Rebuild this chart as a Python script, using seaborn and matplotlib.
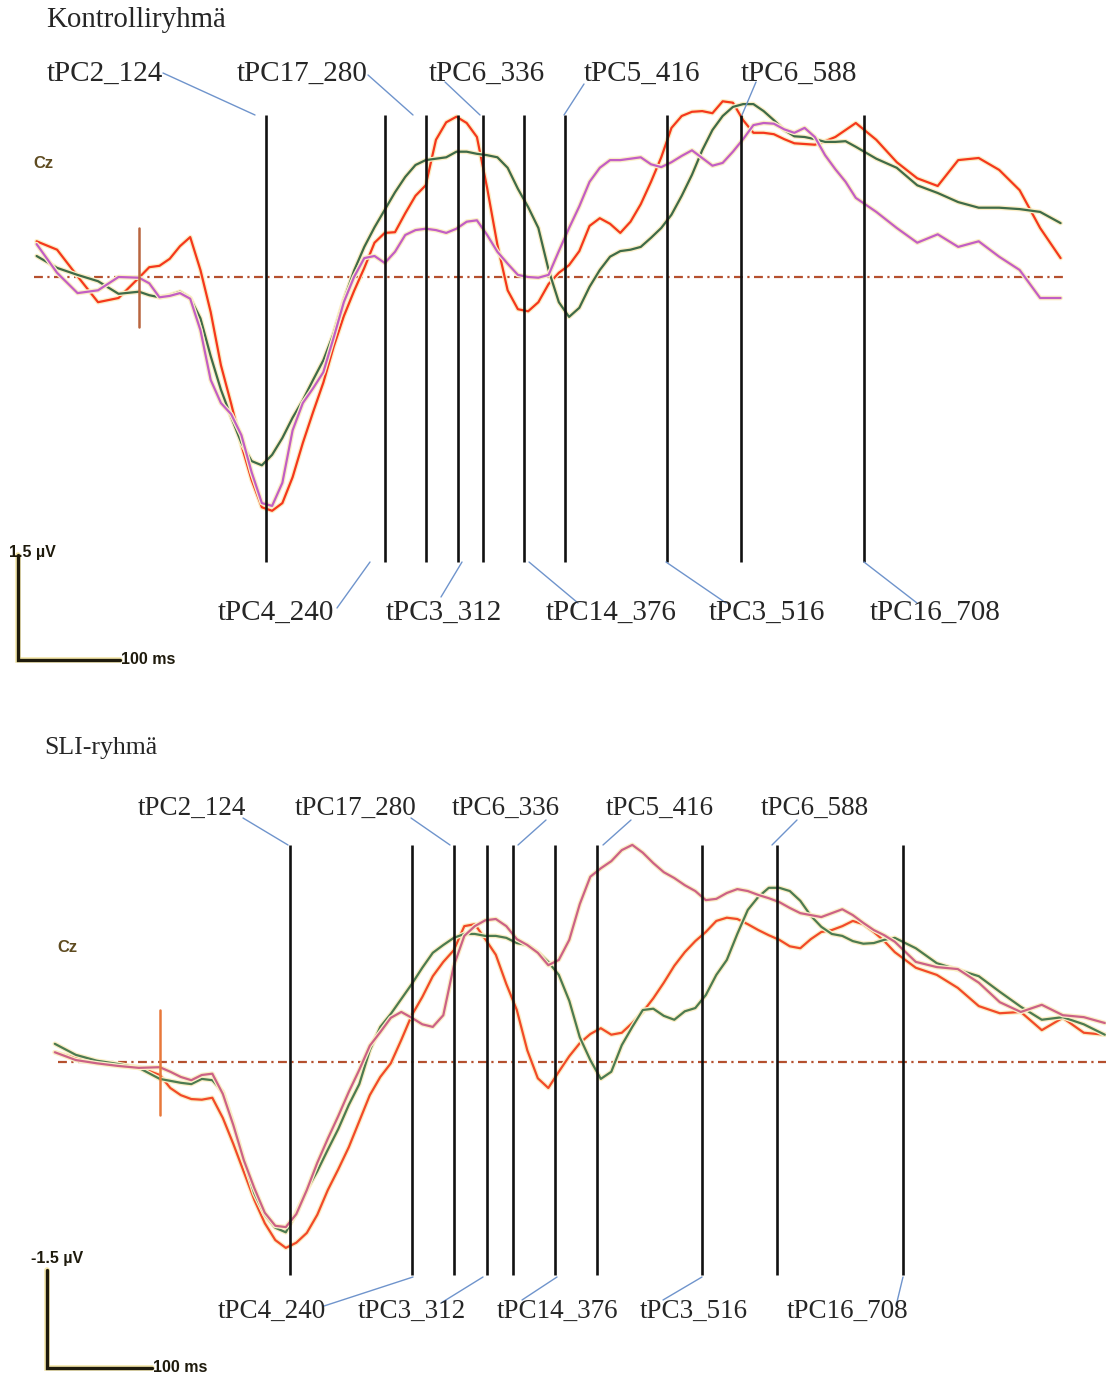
import numpy as np
import pandas as pd
import matplotlib
matplotlib.use("Agg")
import matplotlib.pyplot as plt
import matplotlib.patheffects as pe
import seaborn as sns

W, H = 1106, 1378

# time axis of the averaged ERPs (ms): 20 ms steps in the baseline and the tail,
# 10 ms steps where the waves move fast
time_ms = [-100, -80, -60, -40, -20] + list(range(0, 700, 10)) + list(range(700, 901, 20))

# Kontrolliryhma, Cz (uV)
ctrl_red = [0.51, 0.39, 0.01, -0.36, -0.30,
            -0.01, 0.14, 0.16, 0.26, 0.44, 0.57, 0.10, -0.50, -1.26, -1.81,
            -2.40, -2.90, -3.29, -3.34, -3.23, -2.86, -2.37, -1.93, -1.51, -1.00,
            -0.56, -0.20, 0.13, 0.49, 0.63, 0.64, 0.91, 1.16, 1.31, 1.96,
            2.21, 2.29, 2.20, 2.00, 1.27, 0.46, -0.19, -0.46, -0.49, -0.36,
            -0.10, 0.06, 0.17, 0.37, 0.73, 0.84, 0.76, 0.63, 0.79, 1.04,
            1.36, 1.71, 2.13, 2.30, 2.36, 2.37, 2.34, 2.51, 2.49, 2.24,
            2.06, 2.06, 2.04, 1.97, 1.91, 1.90, 1.89, 1.94, 2.00, 2.10,
            2.20, 1.96, 1.64, 1.41, 1.30, 1.67, 1.70, 1.53, 1.24, 0.70, 0.27]
ctrl_green = [0.30, 0.13, 0.03, -0.06, -0.24,
              -0.21, -0.26, -0.29, -0.26, -0.21, -0.30, -0.59, -1.13, -1.61, -2.00,
              -2.37, -2.63, -2.69, -2.54, -2.30, -2.01, -1.76, -1.47, -1.19, -0.81,
              -0.33, 0.09, 0.43, 0.71, 0.96, 1.21, 1.43, 1.60, 1.67, 1.69,
              1.71, 1.79, 1.79, 1.76, 1.74, 1.71, 1.56, 1.26, 1.00, 0.70,
              0.10, -0.36, -0.57, -0.44, -0.14, 0.10, 0.29, 0.37, 0.39, 0.43,
              0.56, 0.70, 0.89, 1.16, 1.46, 1.81, 2.10, 2.30, 2.43, 2.47,
              2.47, 2.37, 2.24, 2.10, 2.01, 2.00, 1.97, 1.93, 1.93, 1.94,
              1.86, 1.69, 1.56, 1.31, 1.20, 1.07, 0.99, 0.99, 0.97, 0.93, 0.77]
ctrl_magenta = [0.47, 0.06, -0.23, -0.19, 0.00,
                -0.01, -0.09, -0.29, -0.27, -0.23, -0.31, -0.76, -1.47, -1.80, -1.96,
                -2.26, -2.79, -3.23, -3.27, -2.94, -2.19, -1.80, -1.59, -1.36, -0.87,
                -0.36, 0.00, 0.27, 0.30, 0.20, 0.36, 0.60, 0.67, 0.69, 0.67,
                0.63, 0.69, 0.79, 0.81, 0.60, 0.36, 0.19, 0.03, 0.00, -0.01,
                0.03, 0.37, 0.70, 1.01, 1.36, 1.56, 1.67, 1.67, 1.69, 1.71,
                1.61, 1.57, 1.64, 1.73, 1.81, 1.70, 1.59, 1.63, 1.79, 1.97,
                2.17, 2.20, 2.19, 2.11, 2.06, 2.13, 2.00, 1.74, 1.54, 1.36,
                1.13, 0.93, 0.70, 0.49, 0.61, 0.43, 0.51, 0.29, 0.10, -0.30, -0.30]

# SLI-ryhma, Cz (uV)
sli_red = [0.15, 0.06, 0.00, -0.05, -0.08,
           -0.20, -0.40, -0.51, -0.57, -0.58, -0.55, -0.86, -1.26, -1.69, -2.12,
           -2.48, -2.74, -2.86, -2.78, -2.63, -2.35, -1.97, -1.65, -1.31, -0.91,
           -0.51, -0.23, -0.02, 0.34, 0.72, 1.00, 1.32, 1.54, 1.72, 2.09,
           2.12, 1.89, 1.65, 1.20, 0.80, 0.18, -0.25, -0.40, -0.15, 0.09,
           0.29, 0.43, 0.52, 0.42, 0.45, 0.60, 0.77, 0.98, 1.22, 1.48,
           1.69, 1.86, 2.00, 2.17, 2.22, 2.20, 2.12, 2.03, 1.95, 1.88,
           1.78, 1.75, 1.89, 2.00, 2.03, 2.09, 2.17, 2.12, 2.00, 1.86,
           1.69, 1.45, 1.34, 1.14, 0.86, 0.75, 0.77, 0.49, 0.68, 0.45, 0.42]
sli_green = [0.28, 0.11, 0.02, -0.03, -0.09,
             -0.26, -0.29, -0.32, -0.34, -0.26, -0.28, -0.46, -0.95, -1.51, -2.02,
             -2.35, -2.55, -2.62, -2.32, -1.97, -1.68, -1.35, -1.03, -0.66, -0.34,
             0.18, 0.54, 0.74, 0.97, 1.20, 1.45, 1.68, 1.80, 1.91, 1.97,
             1.97, 1.94, 1.94, 1.91, 1.83, 1.80, 1.69, 1.54, 1.34, 0.94,
             0.38, 0.03, -0.26, -0.15, 0.26, 0.54, 0.80, 0.82, 0.71, 0.65,
             0.78, 0.83, 1.03, 1.34, 1.57, 1.97, 2.34, 2.54, 2.68, 2.68,
             2.63, 2.48, 2.25, 2.08, 1.97, 1.94, 1.86, 1.82, 1.83, 1.88,
             1.91, 1.75, 1.52, 1.42, 1.32, 1.08, 0.85, 0.65, 0.69, 0.58, 0.42]
sli_pink = [0.15, 0.03, -0.02, -0.06, -0.09,
            -0.08, -0.15, -0.23, -0.28, -0.20, -0.18, -0.49, -0.97, -1.51, -1.94,
            -2.32, -2.52, -2.54, -2.34, -1.97, -1.55, -1.18, -0.83, -0.46, -0.12,
            0.25, 0.46, 0.68, 0.77, 0.68, 0.58, 0.54, 0.72, 1.48, 1.94,
            2.09, 2.18, 2.20, 2.09, 1.89, 1.80, 1.68, 1.49, 1.57, 1.88,
            2.43, 2.85, 2.98, 3.09, 3.26, 3.34, 3.22, 3.06, 2.92, 2.83,
            2.72, 2.63, 2.49, 2.51, 2.60, 2.66, 2.63, 2.57, 2.52, 2.46,
            2.37, 2.29, 2.26, 2.23, 2.29, 2.35, 2.26, 2.14, 2.03, 1.95,
            1.85, 1.54, 1.46, 1.43, 1.22, 0.92, 0.77, 0.88, 0.72, 0.69, 0.60]

# temporal PCA components marked on both panels
comp_names = ["tPC2", "tPC4", "tPC17", "tPC3", "tPC6", "tPC14", "tPC5", "tPC3", "tPC6", "tPC16"]
comp_times = [124, 240, 280, 312, 336, 376, 416, 516, 588, 708]

for s in (ctrl_red, ctrl_green, ctrl_magenta, sli_red, sli_green, sli_pink):
    assert len(s) == len(time_ms)

SERIF = "Liberation Serif"
SANS = "Liberation Sans"

sns.set_style("white")
fig = plt.figure(figsize=(W / 100, H / 100), dpi=100)


def fp(x, y):
    # image pixel (from top-left) -> figure pixels
    return (x, H - y)


def draw_panel(rows, x0, kx, y0, ky, series, colors, title, title_pos, title_size,
               line_px, stim_px, base_span, labels, lab_size, bar, bar_text, cz_pos):
    ax = fig.add_axes([0, 1 - rows[1] / H, 1, (rows[1] - rows[0]) / H])
    ax.set_xlim((0 - x0) / kx, (W - x0) / kx)
    ax.set_ylim((y0 - rows[1]) / ky, (y0 - rows[0]) / ky)
    ax.axis("off")
    to_v = lambda py: (y0 - py) / ky
    to_t = lambda px: (px - x0) / kx

    # zero line
    ax.plot([base_span[0], base_span[1]], [0, 0], color="#b5502e", lw=1.6,
            dashes=(4, 2, 1, 2), zorder=1)

    df = pd.concat([pd.DataFrame({"time": time_ms, "uV": v, "cond": k})
                    for k, v in series.items()])
    sns.lineplot(data=df, x="time", y="uV", hue="cond", palette=colors, ax=ax,
                 legend=False, linewidth=1.6, estimator=None, zorder=2)
    for ln in ax.lines[1:]:
        ln.set_solid_joinstyle("round")
        ln.set_path_effects([pe.Stroke(linewidth=3.4, foreground="#fbeec6"), pe.Normal()])

    # stimulus onset
    ax.plot([0, 0], [to_v(stim_px[0]), to_v(stim_px[1])], color=stim_px[2], lw=1.8, zorder=2)

    ax.vlines(comp_times, to_v(line_px[1]), to_v(line_px[0]), color="#111111",
              lw=1.9, zorder=3)

    fig.text(title_pos[0] / W, 1 - title_pos[1] / H, title, family=SERIF,
             fontsize=title_size, ha="left", va="center")
    ax.text(to_t(cz_pos[0]), to_v(cz_pos[1]), "Cz", family=SANS, fontweight="bold",
            fontsize=12, color="#5e4b20", ha="left", va="center")

    for name, t, (lx, ly, sx, sy, ex, ey) in zip(comp_names, comp_times, labels):
        fig.text(lx / W, 1 - ly / H, f"{name}_{t}", family=SERIF, fontsize=lab_size,
                 ha="left", va="center")
        ax.annotate("", xy=fp(ex, ey), xycoords="figure pixels",
                    xytext=fp(sx, sy), textcoords="figure pixels",
                    arrowprops=dict(arrowstyle="-", color="#6f94cc", lw=1.0,
                                    shrinkA=0, shrinkB=0))

    # calibration bar: 1.5 uV / 100 ms
    bx, by = to_t(bar[0]), to_v(bar[1])
    ax.plot([bx, bx, bx + 100], [by, by - 1.5, by - 1.5], color="#1e1a0c", lw=2.4,
            solid_joinstyle="miter",
            path_effects=[pe.Stroke(linewidth=4, foreground="#f3e6a8"), pe.Normal()])
    ax.text(to_t(bar_text[0]), to_v(bar_text[1]), bar_text[2], family=SANS,
            fontweight="bold", fontsize=11.5, ha="left", va="center", color="#1e1a0c")
    ax.text(bx + 101, by - 1.5, "100 ms", family=SANS, fontweight="bold",
            fontsize=11.5, ha="left", va="center", color="#1e1a0c")
    return ax


# label layout: (text x, text y, pointer start x, y, pointer end x, y) in image pixels
ctrl_labels = [(47, 74, 163, 73, 255, 115),
               (218, 613, 337, 608, 370, 562),
               (237, 74, 368, 75, 413, 115),
               (386, 613, 441, 597, 462, 562),
               (429, 74, 445, 82, 480, 115),
               (546, 613, 578, 603, 529, 562),
               (584, 74, 584, 84, 564, 115),
               (709, 613, 726, 603, 666, 562),
               (741, 74, 756, 82, 742, 115),
               (870, 613, 917, 603, 864, 562)]
sli_labels = [(138, 808, 243, 818, 288, 845),
              (218, 1311, 324, 1306, 413, 1277),
              (295, 808, 411, 818, 450, 845),
              (358, 1311, 441, 1303, 483, 1277),
              (452, 808, 546, 820, 518, 845),
              (497, 1311, 522, 1300, 557, 1277),
              (606, 808, 631, 820, 603, 845),
              (640, 1311, 663, 1300, 702, 1277),
              (761, 808, 797, 820, 772, 845),
              (787, 1311, 896, 1306, 903, 1277)]

draw_panel(rows=(0, 700), x0=139, kx=1.024, y0=277, ky=70,
           series={"a": ctrl_red, "b": ctrl_green, "c": ctrl_magenta},
           colors={"a": "#f5381c", "b": "#3f6b48", "c": "#c25ec4"},
           title="Kontrolliryhmä", title_pos=(46, 20), title_size=20.8,
           line_px=(115, 562), stim_px=(228, 327, "#b9653f"), base_span=(-103, 906),
           labels=ctrl_labels, lab_size=21,
           bar=(18, 555), bar_text=(9, 552, "1.5 µV"), cz_pos=(33, 163))

draw_panel(rows=(700, H), x0=159.8, kx=1.05, y0=1062, ky=65,
           series={"a": sli_red, "b": sli_green, "c": sli_pink},
           colors={"a": "#f24a28", "b": "#4c7b50", "c": "#cc6286"},
           title="SLI-ryhmä", title_pos=(44, 748), title_size=18.5,
           line_px=(845, 1275), stim_px=(1010, 1115, "#e8783a"), base_span=(-97, 905),
           labels=sli_labels, lab_size=19.5,
           bar=(47, 1270), bar_text=(31, 1258, "-1.5 µV"), cz_pos=(57, 948))

fig.savefig("out.png", dpi=100)
